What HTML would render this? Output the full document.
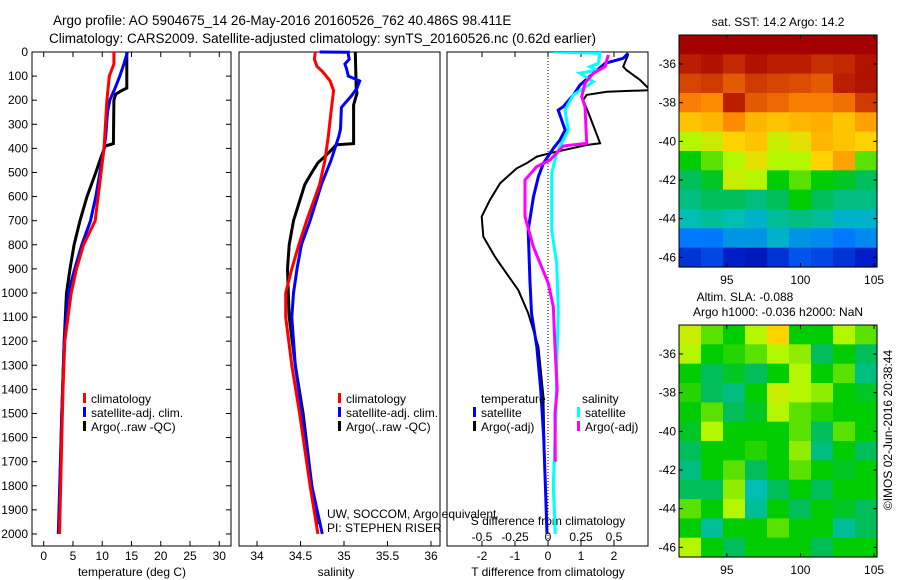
<!DOCTYPE html>
<html><head><meta charset="utf-8"><style>
html,body{margin:0;padding:0;background:#fff;}
svg{display:block;font-family:"Liberation Sans",sans-serif;}
text{fill:#000;}
</style></head><body>
<svg id="fig" width="900" height="580" viewBox="0 0 900 580">
<g id="static">
<text x="53" y="25" font-size="13.5">Argo profile: AO 5904675_14 26-May-2016 20160526_762 40.486S 98.411E</text>
<text x="49" y="43" font-size="13.5">Climatology: CARS2009. Satellite-adjusted climatology: synTS_20160526.nc (0.62d earlier)</text>
<text x="132" y="576" font-size="12" text-anchor="middle">temperature (deg C)</text>
<text x="336" y="576" font-size="12" text-anchor="middle">salinity</text>
<text x="548" y="576" font-size="12" text-anchor="middle">T difference from climatology</text>
<text x="548" y="525" font-size="12" text-anchor="middle">S difference from climatology</text>
<text x="327" y="518" font-size="12">UW, SOCCOM, Argo equivalent</text>
<text x="327" y="532" font-size="12">PI: STEPHEN RISER</text>
<text x="778" y="26" font-size="12" text-anchor="middle">sat. SST: 14.2 Argo: 14.2</text>
<text x="745" y="301" font-size="12" text-anchor="middle">Altim. SLA: -0.088</text>
<text x="778" y="316" font-size="12" text-anchor="middle">Argo h1000: -0.036 h2000: NaN</text>
<text x="0" y="0" font-size="12" text-anchor="middle" transform="translate(892,430) rotate(-90)">©IMOS 02-Jun-2016 20:38:44</text>
</g>
</svg>
<script>
// ---------- data ----------
const depthTicks = [0,100,200,300,400,500,600,700,800,900,1000,1100,1200,1300,1400,1500,1600,1700,1800,1900,2000];
const tempTicks = [0,5,10,15,20,25,30];
const salTicks = [34,34.5,35,35.5,36];
const tdiffTicks = [-2,-1,0,1,2];
const sdiffTicks = [-0.5,-0.25,0,0.25,0.5];
const sdiffLabels = ["-0.5","-0.25","0","0.25","0.5"];
const lonTicks = [95,100,105];
const latTicks = [-36,-38,-40,-42,-44,-46];

const climTDepth = [0,50,100,200,400,500,700,800,900,1000,1200,1400,1600,2000];
const climT      = [12.0,12.0,11.2,10.8,10.3,9.8,8.8,6.8,5.6,4.7,3.6,3.3,3.1,2.7];
const satTDepth = [0,50,100,150,200,250,350,400,500,600,700,800,900,1000,1200,1500,2000];
const satT      = [14.3,13.7,13.0,12.2,11.3,10.9,10.6,10.3,9.6,8.9,8.0,6.5,5.3,4.2,3.5,3.1,2.5];
const argoTDepth = [0,150,160,175,200,380,390,450,500,600,700,800,900,1000,1200,1500,1990];
const argoT      = [14.2,14.2,13.3,12.3,12.0,11.9,10.5,9.6,8.9,7.4,6.2,5.2,4.5,3.9,3.5,3.1,2.6];

const climSDepth = [0,30,60,80,120,160,250,350,450,550,700,800,900,1000,1100,1300,1500,1800,2000];
const climS      = [34.67,34.66,34.69,34.75,34.84,34.88,34.85,34.82,34.78,34.72,34.57,34.48,34.40,34.33,34.33,34.40,34.49,34.61,34.70];
const satSDepth = [0,1,10,30,50,70,100,120,150,180,230,320,350,450,550,700,800,900,1000,1100,1300,1500,1800,2000];
const satS      = [34.72,35.05,35.05,35.06,35.01,35.03,35.05,35.18,35.15,35.09,34.97,34.96,34.94,34.85,34.74,34.61,34.51,34.46,34.42,34.40,34.44,34.52,34.63,34.75];
const argoSDepth = [0,150,170,220,380,385,420,460,500,550,700,800,900,1000,1100,1300,1500,1800,1960];
const argoS      = [35.13,35.14,35.15,35.11,35.11,34.91,34.82,34.70,34.63,34.55,34.42,34.37,34.35,34.36,34.37,34.44,34.53,34.63,34.70];

const satTdDepth = [5,26,47,95,137,178,227,241,324,365,400,462,517,600,739,946,1084,1223,1400,1600,1800,2000];
const satTd      = [2.43,2.28,1.73,1.32,0.97,0.77,0.46,0.31,0.52,0.36,0.16,-0.14,-0.29,-0.44,-0.60,-0.55,-0.50,-0.34,-0.22,-0.13,-0.08,-0.03];
const argoTdDepth = [10,61,75,116,158,165,178,199,268,379,386,420,434,462,483,545,614,683,766,849,891,988,1084,1223,1430,1700,1960];
const argoTd      = [2.43,2.28,2.38,2.79,3.10,1.78,1.17,1.07,1.27,1.58,1.17,0.06,-0.34,-0.65,-0.95,-1.45,-1.76,-2.01,-1.96,-1.61,-1.40,-0.90,-0.60,-0.29,-0.14,-0.10,-0.05];
const satSdDepth = [0,5,47,61,75,88,123,178,241,324,420,503,739,877,1084,1292,1500,1800,2000];
const satSd      = [0.04,0.394,0.381,0.318,0.369,0.242,0.343,0.192,0.129,0.154,0.066,0.028,0.028,0.066,0.078,0.066,0.06,0.04,0.055];
const argoSdDepth = [12,61,88,130,185,227,379,390,448,476,531,683,808,960,1057,1223,1400,1500,1700];
const argoSd      = [0.457,0.432,0.343,0.28,0.255,0.28,0.293,0.116,0.015,-0.086,-0.174,-0.174,-0.111,0.002,0.04,0.053,0.07,0.053,0.055];

const sstGrid = [
 [1,1,1,1,1,1,1,1,1],
 [.95,.97,.93,.97,.95,.95,.92,.93,.97],
 [.88,.9,.85,.9,.88,.87,.85,.95,.97],
 [.8,.78,.95,.85,.83,.8,.8,.82,.9],
 [.7,.72,.78,.72,.7,.72,.73,.7,.75],
 [.6,.62,.68,.7,.62,.65,.72,.7,.68],
 [.5,.55,.6,.65,.6,.6,.68,.75,.55],
 [.45,.48,.62,.6,.5,.55,.5,.48,.45],
 [.42,.45,.45,.42,.45,.5,.45,.42,.42],
 [.38,.4,.38,.35,.4,.42,.4,.35,.35],
 [.25,.25,.3,.3,.35,.3,.28,.25,.28],
 [.15,.18,.12,.1,.15,.2,.18,.15,.12]
];
const slaGrid = [
 [.62,.55,.5,.6,.68,.5,.5,.6,.55],
 [.6,.5,.52,.55,.6,.58,.45,.5,.45],
 [.5,.45,.48,.45,.5,.6,.5,.55,.42],
 [.52,.45,.42,.5,.62,.6,.58,.5,.48],
 [.5,.55,.45,.48,.6,.55,.52,.5,.5],
 [.48,.6,.5,.5,.5,.55,.45,.55,.5],
 [.45,.5,.5,.52,.5,.58,.42,.5,.45],
 [.42,.5,.55,.45,.5,.55,.5,.48,.5],
 [.45,.45,.58,.38,.45,.5,.45,.5,.5],
 [.55,.5,.6,.4,.5,.45,.5,.48,.45],
 [.5,.4,.5,.5,.55,.5,.5,.4,.45],
 [.6,.5,.45,.5,.5,.5,.45,.5,.5]
];

// ---------- geometry ----------
const NS = "http://www.w3.org/2000/svg";
const svg = document.getElementById("fig");
const TOP = 52, BOT = 546;
const yD = d => TOP + d * (BOT - TOP) / 2050;
const P1 = {l:32, r:231}, P2 = {l:239, r:440}, P3 = {l:447, r:648};
const xT = t => P1.l + (t + 2) * (P1.r - P1.l) / 34;
const xS = s => 257 + (s - 34) * 87;
const xTd = t => 548 + t * 33;
const xSd = s => 548 + s * 132;
const M1 = {l:679, r:877, t:35, b:267}, M2 = {l:679, r:877, t:325, b:557};
const lonMin = 91.75, lonMax = 105.2, latTop = -34.5, latBot = -46.5;

function mk(tag, attrs, parent) {
  const e = document.createElementNS(NS, tag);
  for (const k in attrs) e.setAttribute(k, attrs[k]);
  (parent || svg).appendChild(e);
  return e;
}
function txt(x, y, s, anchor, parent) {
  const t = mk("text", {x:x, y:y, "font-size":12, "text-anchor":anchor||"middle"}, parent);
  t.textContent = s;
  return t;
}

// colormap
const cmStops = [[0,[0,0,130]],[0.12,[0,30,200]],[0.25,[0,120,255]],[0.37,[0,190,190]],[0.45,[0,190,90]],[0.5,[0,205,0]],[0.6,[180,245,0]],[0.68,[255,210,0]],[0.78,[255,140,0]],[0.88,[215,70,0]],[1,[165,0,0]]];
function cmap(v) {
  for (let i = 1; i < cmStops.length; i++) {
    if (v <= cmStops[i][0]) {
      const a = cmStops[i-1], b = cmStops[i], f = (v - a[0]) / (b[0] - a[0]);
      const c = a[1].map((q, j) => Math.round(q + f * (b[1][j] - q)));
      return "rgb(" + c.join(",") + ")";
    }
  }
  return "rgb(165,0,0)";
}

// ---------- maps ----------
function drawMap(M, grid, name) {
  const g = mk("g", {});
  
  
  const rows = grid.length, cols = grid[0].length;
  const cw = (M.r - M.l) / cols, ch = (M.b - M.t) / rows;
  grid.forEach((row, i) => row.forEach((v, j) => {
    const c = mk("rect", {x:M.l + j*cw, y:M.t + i*ch, width:cw+0.6, height:ch+0.6, fill:cmap(v)}, g);
    
    
  }));
  const f = mk("rect", {x:M.l, y:M.t, width:M.r-M.l, height:M.b-M.t, fill:"none", stroke:"#000", "stroke-width":1}, g);
  
  
  const lx = lon => M.l + (lon - lonMin) * (M.r - M.l) / (lonMax - lonMin);
  const ly = lat => M.t + (latTop - lat) * (M.b - M.t) / (latTop - latBot);
  lonTicks.forEach(lon => {
    const x = lx(lon);
    mk("line", {x1:x, x2:x, y1:M.t, y2:M.t+4, stroke:"#000"}, g);
    mk("line", {x1:x, x2:x, y1:M.b, y2:M.b-4, stroke:"#000"}, g);
    const t = txt(x, M.b + 17, String(lon), "middle", g);
    
    
  });
  latTicks.forEach(lat => {
    const y = ly(lat);
    mk("line", {x1:M.l, x2:M.l+4, y1:y, y2:y, stroke:"#000"}, g);
    mk("line", {x1:M.r, x2:M.r-4, y1:y, y2:y, stroke:"#000"}, g);
    const t = txt(M.l - 3, y + 4, String(lat), "end", g);
    
    
  });
}
drawMap(M1, sstGrid, "sst-map");
drawMap(M2, slaGrid, "sla-map");

// ---------- profile panels ----------
function frame(P, name) {
  const r = mk("rect", {x:P.l, y:TOP, width:P.r-P.l, height:BOT-TOP, fill:"none", stroke:"#000", "stroke-width":1});
  
  
}
function xticks(P, ticks, fx, labels, name, top) {
  ticks.forEach((v, i) => {
    const x = fx(v);
    if (top) mk("line", {x1:x, x2:x, y1:TOP, y2:TOP+5, stroke:"#000"});
    mk("line", {x1:x, x2:x, y1:BOT, y2:BOT-5, stroke:"#000"});
    const t = txt(x, 560, labels ? labels[i] : String(v));
    
    
  });
}
function line(depths, vals, fx, color, w, name) {
  const pts = depths.map((d, i) => fx(vals[i]).toFixed(1) + "," + yD(d).toFixed(1)).join(" ");
  const p = mk("polyline", {points:pts, fill:"none", stroke:color, "stroke-width":w, "stroke-linejoin":"miter"});
  
  
}
function legend(x, y, items, name) {
  items.forEach((it, i) => {
    const r = mk("rect", {x:x, y:y + i*14 - 10, width:3, height:10, fill:it[1]});
    
    
    const t = txt(x + 8, y + i*14, it[0], "start");
    
    
  });
}

// panel 1
frame(P1, "temperature-panel");
xticks(P1, tempTicks, xT, null, "temperature-tick-label", true);
depthTicks.forEach(d => {
  const y = yD(d);
  mk("line", {x1:P1.l, x2:P1.l+5, y1:y, y2:y, stroke:"#000"});
  mk("line", {x1:P1.r, x2:P1.r-5, y1:y, y2:y, stroke:"#000"});
  const t = txt(28, y + 4, String(d), "end");
  
  
});
line(argoTDepth, argoT, xT, "#000", 3, "temperature-argo-line");
line(satTDepth, satT, xT, "#0000ff", 3, "temperature-satellite-line");
line(climTDepth, climT, xT, "#ff0000", 3, "temperature-climatology-line");
legend(83, 403, [["climatology","#ff0000"],["satellite-adj. clim.","#0000ff"],["Argo(..raw -QC)","#000"]], "temperature-legend");

// panel 2
frame(P2, "salinity-panel");
xticks(P2, salTicks, xS, null, "salinity-tick-label", false);
line(argoSDepth, argoS, xS, "#000", 3, "salinity-argo-line");
line(satSDepth, satS, xS, "#0000ff", 3, "salinity-satellite-line");
line(climSDepth, climS, xS, "#ff0000", 3, "salinity-climatology-line");
legend(338, 403, [["climatology","#ff0000"],["satellite-adj. clim.","#0000ff"],["Argo(..raw -QC)","#000"]], "salinity-legend");

// panel 3
frame(P3, "difference-panel");
xticks(P3, tdiffTicks, xTd, null, "t-difference-tick-label", true);
sdiffTicks.forEach((v, i) => {
  const t = txt(xSd(v), 541, sdiffLabels[i]);
  
  
});
const zl = mk("line", {x1:xTd(0), x2:xTd(0), y1:TOP, y2:BOT, stroke:"#000", "stroke-width":1, "stroke-dasharray":"1,2"});


const clip = mk("clipPath", {id:"c3"});
mk("rect", {x:P3.l, y:TOP, width:P3.r-P3.l, height:BOT-TOP}, clip);
const g3 = mk("g", {"clip-path":"url(#c3)"});


function line3(depths, vals, fx, color, w, name) {
  const pts = depths.map((d, i) => fx(vals[i]).toFixed(1) + "," + yD(d).toFixed(1)).join(" ");
  const p = mk("polyline", {points:pts, fill:"none", stroke:color, "stroke-width":w}, g3);
  
  
}
line3(argoTdDepth, argoTd, xTd, "#000", 2, "t-difference-argo-line");
line3(satTdDepth, satTd, xTd, "#0000ff", 3, "t-difference-satellite-line");
line3(satSdDepth, satSd, xSd, "#00ffff", 3, "s-difference-satellite-line");
line3(argoSdDepth, argoSd, xSd, "#ff00ff", 3, "s-difference-argo-line");
const lt = txt(481, 403, "temperature", "start");


const ls = txt(582, 403, "salinity", "start");


legend(473, 417, [["satellite","#0000ff"],["Argo(-adj)","#000"]], "difference-legend-temperature");
legend(577, 417, [["satellite","#00ffff"],["Argo(-adj)","#ff00ff"]], "difference-legend-salinity");
</script>
</body></html>
